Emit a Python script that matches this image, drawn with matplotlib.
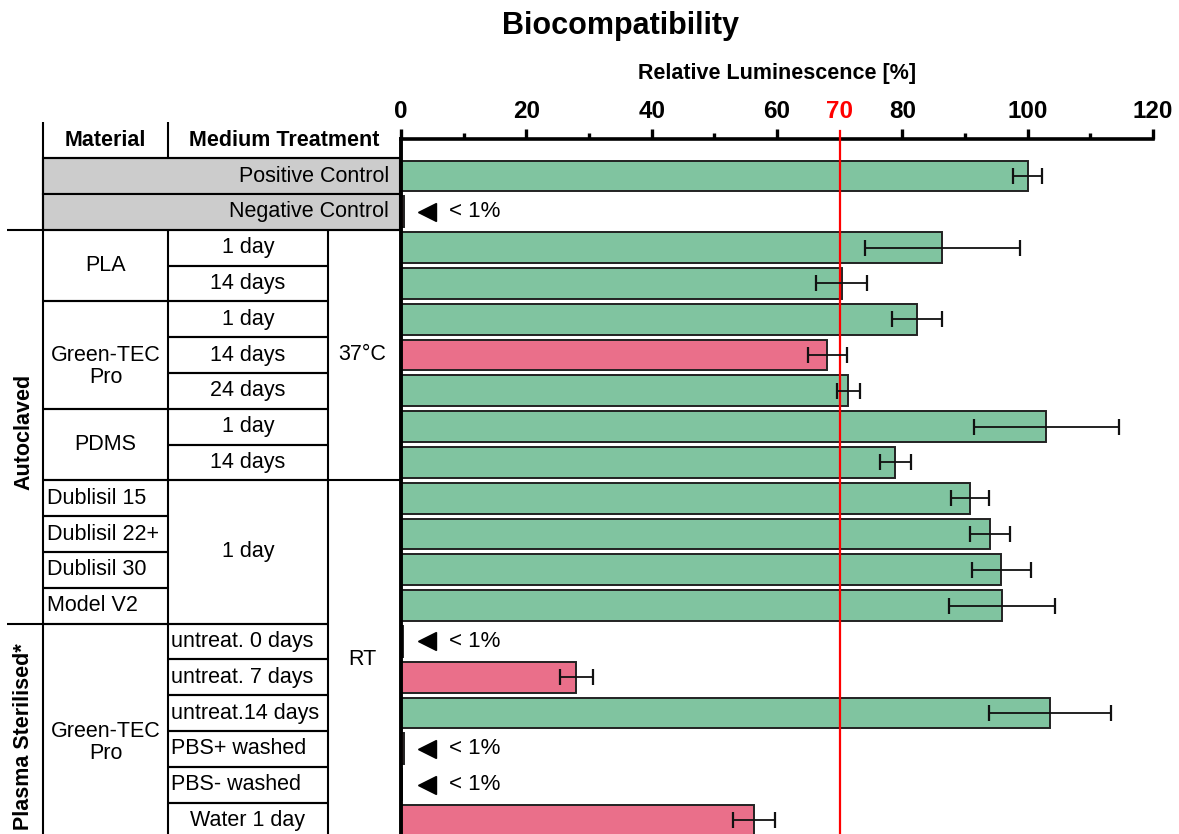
import matplotlib
matplotlib.use('Agg')
import matplotlib.pyplot as plt
from matplotlib.patches import Rectangle

plt.rcParams['font.family'] = ['Liberation Sans', 'DejaVu Sans']

# ---------------- data ----------------
title = "Biocompatibility"
xlabel = "Relative Luminescence [%]"
row_names = ["Positive Control", "Negative Control",
             "PLA 1 day", "PLA 14 days",
             "Green-TEC Pro 1 day", "Green-TEC Pro 14 days", "Green-TEC Pro 24 days",
             "PDMS 1 day", "PDMS 14 days",
             "Dublisil 15", "Dublisil 22+", "Dublisil 30", "Model V2",
             "untreat. 0 days", "untreat. 7 days", "untreat.14 days",
             "PBS+ washed", "PBS- washed", "Water 1 day"]
values = [100.0, 0.5, 86.4, 70.3, 82.4, 68.0, 71.4, 103.0, 78.9,
          90.8, 94.0, 95.8, 95.9, 0.3, 28.0, 103.6, 0.5, 0.2, 56.4]
errors = [2.3, 0, 12.3, 4.0, 4.0, 3.1, 1.9, 11.6, 2.5,
          3.1, 3.2, 4.7, 8.4, 0, 2.6, 9.7, 0, 0, 3.35]
passed = [True, False, True, True, True, False, True, True, True,
          True, True, True, True, False, False, True, False, False, False]
below_detection = [1, 13, 16, 17]
below_text = "< 1%"
threshold = 70
major_ticks = [0, 20, 40, 60, 70, 80, 100, 120]
minor_ticks = [10, 30, 50, 90, 110]

controls = [("Positive Control", 0), ("Negative Control", 1)]
# (label, first row, last row, alignment)
materials = [("PLA", 2, 3, "center"), ("Green-TEC\nPro", 4, 6, "center2"),
             ("PDMS", 7, 8, "center"), ("Dublisil 15", 9, 9, "left"),
             ("Dublisil 22+", 10, 10, "left"), ("Dublisil 30", 11, 11, "left"),
             ("Model V2", 12, 12, "left"), ("Green-TEC\nPro", 13, 18, "center2")]
mediums = [("1 day", 2, 2, "center"), ("14 days", 3, 3, "center"),
           ("1 day", 4, 4, "center"), ("14 days", 5, 5, "center"),
           ("24 days", 6, 6, "center"), ("1 day", 7, 7, "center"),
           ("14 days", 8, 8, "center"), ("1 day", 9, 12, "center"),
           ("untreat. 0 days", 13, 13, "left"), ("untreat. 7 days", 14, 14, "left"),
           ("untreat.14 days", 15, 15, "left"), ("PBS+ washed", 16, 16, "left"),
           ("PBS- washed", 17, 17, "left"), ("Water 1 day", 18, 18, "center")]
temps = [("37°C", 2, 8), ("RT", 9, 18)]
groups = [("Autoclaved", 2, 12), ("Plasma Sterilised*", 13, 18)]
headers = ["Material", "Medium Treatment"]

green = "#80C4A0"
pink = "#EA6F8A"

# ---------------- figure ----------------
W, H = 1179, 834
fig = plt.figure(figsize=(W / 100, H / 100), dpi=100)

x0_px, x1_px = 401, 1153
top_px = 139
row0_px = 176
row_px = 35.8
ytop = (top_px - row0_px) / row_px
ybot = (H - row0_px) / row_px

ax = fig.add_axes([x0_px / W, 0, (x1_px - x0_px) / W, (H - top_px) / H])
tab = fig.add_axes([0, 0, x0_px / W, (H - top_px) / H])
tab.set_xlim(0, x0_px)
for a in (ax, tab):
    a.set_ylim(ybot, ytop)
tab.axis('off')
tab.patch.set_alpha(0)

rows = list(range(len(values)))
colors = [green if p else pink for p in passed]
ax.barh(rows, values, height=0.86, color=colors, edgecolor='#222222',
        linewidth=1.4, zorder=2)
er = [i for i in rows if errors[i] > 0]
ax.errorbar([values[i] for i in er], er, xerr=[errors[i] for i in er],
            fmt='none', ecolor='#111111', elinewidth=1.3, capsize=6,
            capthick=1.6, zorder=4)
ax.axvline(threshold, ymin=0, ymax=1.012, color='red', lw=1.6, zorder=3,
           clip_on=False)

for r in below_detection:
    ax.plot([4.15], [r], marker='<', markersize=13, color='black',
            linestyle='none', zorder=5)
    ax.text(7.6, r, below_text, fontsize=16, va='center', ha='left')

ax.set_xlim(0, 120)
ax.xaxis.tick_top()
ax.set_xticks(major_ticks)
ax.set_xticklabels([str(t) for t in major_ticks])
ax.set_xticks(minor_ticks, minor=True)
ax.tick_params(axis='x', which='major', direction='out', length=7.5, width=2.4,
               pad=4, labelsize=17.5)
ax.tick_params(axis='x', which='minor', direction='out', length=4.5, width=2.4)
for t, tick in zip(major_ticks, ax.xaxis.get_major_ticks()):
    tick.label2.set_fontweight('bold')
    if t == threshold:
        tick.tick2line.set_visible(False)
        tick.label2.set_color('red')
ax.set_yticks([])
for s in ('right', 'bottom'):
    ax.spines[s].set_visible(False)
ax.spines['top'].set_linewidth(2.6)
ax.spines['left'].set_linewidth(2.8)
ax.patch.set_alpha(0)

fig.text(620 / W, 1 - 26 / H, title, fontsize=22, fontweight='bold',
         ha='center', va='center')
fig.text(777 / W, 1 - 73 / H, xlabel, fontsize=15.5, fontweight='bold',
         ha='center', va='center')

# ---------------- table ----------------
lw = 1.5
fs = 15.5
xm0, xm1, xt0, xend = 43, 168, 328, 400


def hline(y, xa, xb):
    tab.plot([xa, xb], [y, y], color='black', lw=lw, clip_on=False,
             solid_capstyle='butt')


def vline(x, ya, yb):
    tab.plot([x, x], [ya, yb], color='black', lw=lw, clip_on=False,
             solid_capstyle='butt')


# header
hy = -1.0
tab.text((xm0 + xm1) / 2, hy, headers[0], fontsize=fs, fontweight='bold',
         ha='center', va='center')
tab.text((xm1 + xend) / 2, hy, headers[1], fontsize=fs, fontweight='bold',
         ha='center', va='center')
vline(xm0, -1.52, ybot + 0.2)
vline(xm1, -1.52, -0.5)
hline(-0.5, xm0, xend)

# controls
for name, r in controls:
    tab.add_patch(Rectangle((xm0, r - 0.5), xend - xm0, 1.0, facecolor='#CCCCCC',
                            edgecolor='black', lw=lw, clip_on=False, zorder=1))
    tab.text(389, r, name, fontsize=fs, ha='right', va='center', zorder=3)

# materials
for name, r0, r1, al in materials:
    hline(r0 - 0.5, xm0, xm1)
    hline(r1 + 0.5, xm0, xm1)
    yc = (r0 + r1) / 2
    if al == "left":
        tab.text(47, yc, name, fontsize=fs, ha='left', va='center')
    elif al == "center2":
        tab.text((xm0 + xm1) / 2, yc + 0.32, name, fontsize=fs, ha='center',
                 va='center', linespacing=1.05)
    else:
        tab.text((xm0 + xm1) / 2, yc, name, fontsize=fs, ha='center', va='center')

# mediums
vline(xm1, 1.5, ybot + 0.2)
for name, r0, r1, al in mediums:
    hline(r0 - 0.5, xm1, xt0)
    hline(r1 + 0.5, xm1, xt0)
    yc = (r0 + r1) / 2
    if al == "left":
        tab.text(171, yc, name, fontsize=fs, ha='left', va='center')
    else:
        tab.text((xm1 + xt0) / 2, yc, name, fontsize=fs, ha='center', va='center')

# temperatures
vline(xt0, 1.5, ybot + 0.2)
for name, r0, r1 in temps:
    hline(r0 - 0.5, xt0, xend)
    tab.text((xt0 + xend) / 2 - 2, (r0 + r1) / 2, name, fontsize=fs,
             ha='center', va='center')

# groups
for name, r0, r1 in groups:
    hline(r0 - 0.5, 7, xm0)
    tab.text(24, (r0 + r1) / 2 + 0.15, name, fontsize=fs, fontweight='bold',
             rotation=90, ha='center', va='center')

fig.savefig('out.png', dpi=100)
